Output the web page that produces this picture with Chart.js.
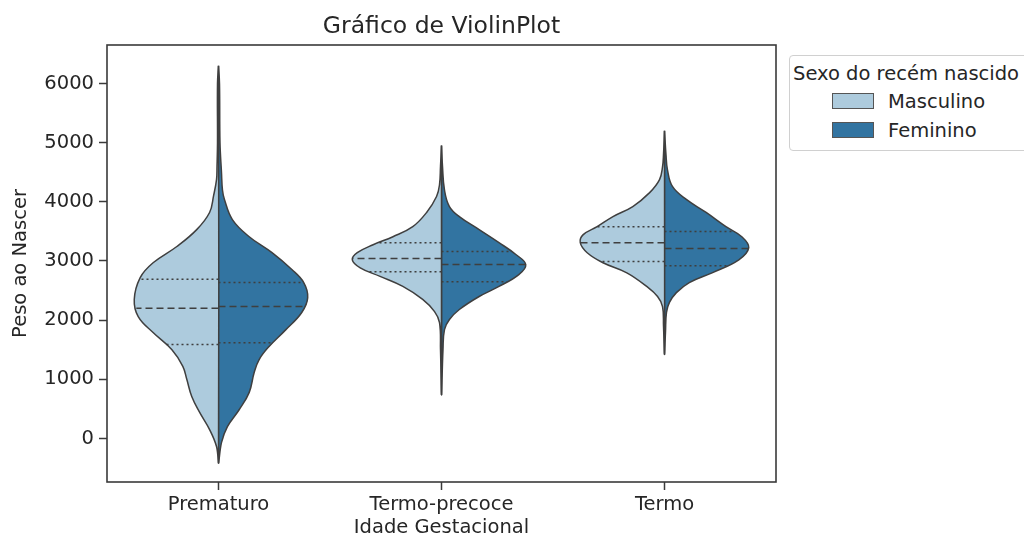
<!DOCTYPE html>
<html>
<head>
<meta charset="utf-8">
<script src="https://cdn.jsdelivr.net/npm/chart.js@4"></script>
<style>
  body { margin: 0; width: 1024px; height: 543px; overflow: hidden; background: #fff; font-family: "DejaVu Sans", sans-serif; }
  #wrap { position: absolute; left: 0; top: 0; width: 883px; height: 543px; }
  #legenda { position: absolute; left: 789px; top: 55px; width: 270px; height: 94px; border: 1px solid #d0d0d0; border-radius: 4px; background: #fff; color: #262626; font-size: 19.5px; }
  #legenda .titulo { position: absolute; left: 3px; top: 6px; white-space: nowrap; }
  #legenda .item { position: absolute; left: 42px; white-space: nowrap; }
  #legenda .cor { display: inline-block; width: 40px; height: 14px; border: 1px solid #555; vertical-align: -1px; margin-right: 14px; }
</style>
</head>
<body>
<div id="wrap"><canvas id="violino"></canvas></div>
<div id="legenda"></div>
<script>
// categorias e séries
const categorias = ['Prematuro', 'Termo-precoce', 'Termo'];
const sexos = ['Masculino', 'Feminino'];
const cores = ['#adcbdd', '#3274a1'];
const yTicks = [0, 1000, 2000, 3000, 4000, 5000, 6000];

// perfis de densidade (peso, densidade relativa)
const premMascY = [6300, 6000, 5000, 4600, 4375, 4100, 3820, 3530, 3245, 2970, 2720, 2350, 2060, 1790, 1500, 1220, 1000, 710, 440, 150, -135, -390];
const premMascD = [0, 1, 1, 1.5, 2, 5, 9, 22, 42, 66, 79, 85, 81, 66, 47, 36, 32, 27, 19, 9, 2, 0];
const premFemY = [6300, 6000, 5000, 4500, 4200, 4040, 3700, 3410, 3140, 2855, 2635, 2380, 2130, 1840, 1555, 1335, 1115, 780, 490, 200, -70, -390];
const premFemD = [0, 1, 1.5, 3, 4, 6, 14, 31, 54, 74, 86, 90, 84, 68, 51, 41, 36, 31, 21, 9, 3, 0];

const precMascY = [4950, 4600, 4290, 4090, 3820, 3580, 3410, 3275, 3140, 3020, 2885, 2740, 2570, 2350, 2145, 1960, 1500, 780];
const precMascD = [0, 1, 2, 5, 15, 29, 49, 69, 85, 90, 82, 62, 39, 19, 7, 2, 1, 0];
const precFemY = [4950, 4600, 4200, 3920, 3750, 3530, 3310, 3110, 2940, 2770, 2570, 2400, 2180, 2010, 1840, 1500, 780];
const precFemD = [0, 1, 3, 8, 18, 38, 58, 75, 85, 78, 58, 38, 18, 8, 3, 1.5, 0];

const termoMascY = [5200, 4800, 4590, 4375, 4155, 3920, 3750, 3580, 3445, 3310, 3140, 2970, 2800, 2570, 2400, 2230, 1900, 1450];
const termoMascD = [0, 1, 2, 5, 15, 32, 52, 68, 82, 85, 78, 62, 38, 18, 7, 2, 1, 0];
const termoFemY = [5200, 4800, 4540, 4260, 4040, 3820, 3580, 3410, 3225, 3020, 2800, 2635, 2465, 2300, 2130, 1800, 1450];
const termoFemD = [0, 1.5, 3, 8, 22, 42, 62, 78, 85, 75, 48, 25, 12, 5, 2, 1, 0];

// quartis (Q1, mediana, Q3)
const premMascQ = [1590, 2200, 2690];
const premFemQ = [1620, 2230, 2635];
const precMascQ = [2820, 3040, 3310];
const precFemQ = [2650, 2940, 3160];
const termoMascQ = [2990, 3310, 3580];
const termoFemQ = [2920, 3210, 3500];

const metades = [
  { cat: 0, sexo: 0, ys: premMascY, ds: premMascD, qs: premMascQ },
  { cat: 0, sexo: 1, ys: premFemY, ds: premFemD, qs: premFemQ },
  { cat: 1, sexo: 0, ys: precMascY, ds: precMascD, qs: precMascQ },
  { cat: 1, sexo: 1, ys: precFemY, ds: precFemD, qs: precFemQ },
  { cat: 2, sexo: 0, ys: termoMascY, ds: termoMascD, qs: termoMascQ },
  { cat: 2, sexo: 1, ys: termoFemY, ds: termoFemD, qs: termoFemQ },
];

// maior densidade recebe meia largura de 0.4
const maxD = Math.max(...metades.flatMap(m => m.ds));
const escala = 0.4 / maxD;
const cinza = '#3f3f3f';

function larguraEm(m, q) {
  for (let i = 0; i < m.ys.length - 1; i++) {
    if (m.ys[i] >= q && q >= m.ys[i + 1]) {
      const t = (m.ys[i] - q) / (m.ys[i] - m.ys[i + 1]);
      return (m.ds[i] + t * (m.ds[i + 1] - m.ds[i])) * escala;
    }
  }
  return 0;
}

const datasets = [];
metades.forEach(m => {
  const lado = m.sexo === 0 ? -1 : 1;
  const pts = m.ys.map((y, i) => ({ x: m.cat + lado * m.ds[i] * escala, y: y }));
  pts.push({ x: m.cat, y: m.ys[0] });
  datasets.push({
    label: sexos[m.sexo],
    data: pts,
    backgroundColor: cores[m.sexo],
    borderColor: cinza,
    borderWidth: 1.5,
    fill: 'shape',
    tension: 0.4,
    pointRadius: 0,
    order: 1
  });
  m.qs.forEach((q, j) => {
    datasets.push({
      label: 'quartil',
      data: [{ x: m.cat, y: q }, { x: m.cat + lado * larguraEm(m, q), y: q }],
      borderColor: cinza,
      borderWidth: 1.5,
      borderDash: j === 1 ? [7, 4] : [2, 3],
      fill: false,
      pointRadius: 0,
      order: 0
    });
  });
});

// legenda em HTML
const leg = document.getElementById('legenda');
leg.innerHTML = '<div class="titulo">Sexo do recém nascido</div>' +
  sexos.map((s, i) => '<div class="item" style="top:' + (34 + i * 29) + 'px"><span class="cor" style="background:' + cores[i] + '"></span>' + s + '</div>').join('');

const moldura = {
  id: 'moldura',
  afterDraw(chart) {
    const a = chart.chartArea, ctx = chart.ctx;
    ctx.save();
    ctx.strokeStyle = '#3a3a3a';
    ctx.lineWidth = 1.6;
    ctx.strokeRect(a.left, a.top, a.right - a.left, a.bottom - a.top);
    ctx.restore();
  }
};

const fonte = { family: '"DejaVu Sans", sans-serif', size: 19.5 };

new Chart(document.getElementById('violino'), {
  type: 'line',
  data: { datasets: datasets },
  plugins: [moldura],
  options: {
    responsive: true,
    maintainAspectRatio: false,
    animation: false,
    layout: { padding: { left: 0, right: 107, top: 0, bottom: 0 } },
    plugins: {
      legend: { display: false },
      tooltip: { enabled: false },
      title: {
        display: true,
        fullSize: false,
        text: 'Gráfico de ViolinPlot',
        color: '#262626',
        font: { family: '"DejaVu Sans", sans-serif', size: 23.5, weight: 'normal' },
        padding: { top: 13, bottom: 3.8 }
      }
    },
    scales: {
      x: {
        type: 'linear',
        min: -0.5,
        max: 2.5,
        afterBuildTicks: s => { s.ticks = categorias.map((c, i) => ({ value: i })); },
        afterFit: s => { s.height = 61; },
        ticks: { color: '#262626', font: fonte, padding: 3, callback: v => categorias[v] },
        grid: { drawOnChartArea: false, drawTicks: true, tickLength: 8, tickColor: '#3a3a3a', tickWidth: 1.5 },
        border: { display: false },
        title: { display: true, text: 'Idade Gestacional', color: '#262626', font: fonte, padding: { top: 0, bottom: 3.3 } }
      },
      y: {
        type: 'linear',
        min: -735,
        max: 6650,
        afterBuildTicks: s => { s.ticks = yTicks.map(v => ({ value: v })); },
        afterFit: s => { s.width = 107; },
        ticks: { color: '#262626', font: fonte, padding: 5, callback: v => String(v) },
        grid: { drawOnChartArea: false, drawTicks: true, tickLength: 8, tickColor: '#3a3a3a', tickWidth: 1.5 },
        border: { display: false },
        title: { display: true, text: 'Peso ao Nascer', color: '#262626', font: fonte, padding: { top: 9.5, bottom: 0 } }
      }
    }
  }
});
</script>
</body>
</html>
